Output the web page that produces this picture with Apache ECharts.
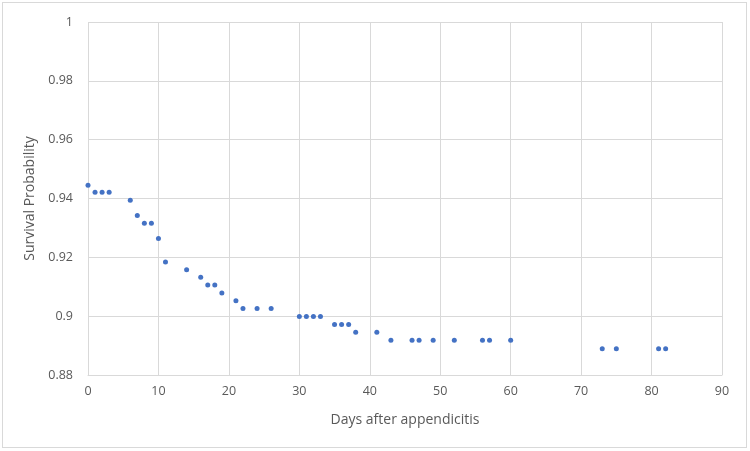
<!DOCTYPE html>
<html>
<head>
<meta charset="utf-8">
<script src="https://cdn.jsdelivr.net/npm/echarts@6/dist/echarts.min.js"></script>
<style>
html,body{margin:0;padding:0;background:#fff;}
#wrap{position:absolute;left:2px;top:2px;width:745px;height:446px;border:1px solid #d9d9d9;box-sizing:border-box;}
#chart{position:absolute;left:0;top:0;width:750px;height:451px;}
</style>
</head>
<body>
<div id="wrap"></div>
<div id="chart"></div>
<script>
const days = [0,1,2,3,6,7,8,9,10,11,14,16,17,18,19,21,22,24,26,30,31,32,33,35,36,37,38,41,43,46,47,49,52,56,57,60,73,75,81,82];
const survival = [0.9445,0.9421,0.9421,0.9421,0.9394,0.9342,0.9316,0.9316,0.9264,0.9184,0.9158,0.9132,0.9106,0.9106,0.9079,0.9052,0.9026,0.9026,0.9026,0.8999,0.8999,0.8999,0.8999,0.8972,0.8972,0.8972,0.8945,0.8945,0.8918,0.8918,0.8918,0.8918,0.8918,0.8918,0.8918,0.8918,0.8889,0.8889,0.8889,0.8889];
const xTitle = 'Days after appendicitis';
const yTitle = 'Survival Probability';

const chart = echarts.init(document.getElementById('chart'));
const font = '"Open Sans", "Liberation Sans", sans-serif';
chart.setOption({
  animation: false,
  grid: {left: 88, right: 28, top: 22, bottom: 76},
  xAxis: {
    type: 'value', min: 0, max: 90, interval: 10,
    name: xTitle, nameLocation: 'middle', nameGap: 38,
    nameTextStyle: {color: '#595959', fontSize: 14, fontFamily: font},
    axisLine: {show: true, lineStyle: {color: '#d9d9d9'}},
    axisTick: {show: false},
    axisLabel: {color: '#595959', fontSize: 12.5, fontFamily: font, margin: 10},
    splitLine: {show: true, lineStyle: {color: '#d9d9d9'}}
  },
  yAxis: {
    type: 'value', min: 0.88, max: 1, interval: 0.02,
    name: yTitle, nameLocation: 'middle', nameGap: 51,
    nameTextStyle: {color: '#595959', fontSize: 14, fontFamily: font},
    axisLine: {show: false},
    axisTick: {show: false},
    axisLabel: {color: '#595959', fontSize: 12.5, fontFamily: font, margin: 15,
      formatter: v => String(parseFloat(v.toFixed(2)))},
    splitLine: {show: true, lineStyle: {color: '#d9d9d9'}}
  },
  series: [{
    type: 'scatter',
    data: days.map((d, i) => [d, survival[i]]),
    symbol: 'circle', symbolSize: 5,
    itemStyle: {color: '#4472C4', opacity: 1}
  }]
});
</script>
</body>
</html>
